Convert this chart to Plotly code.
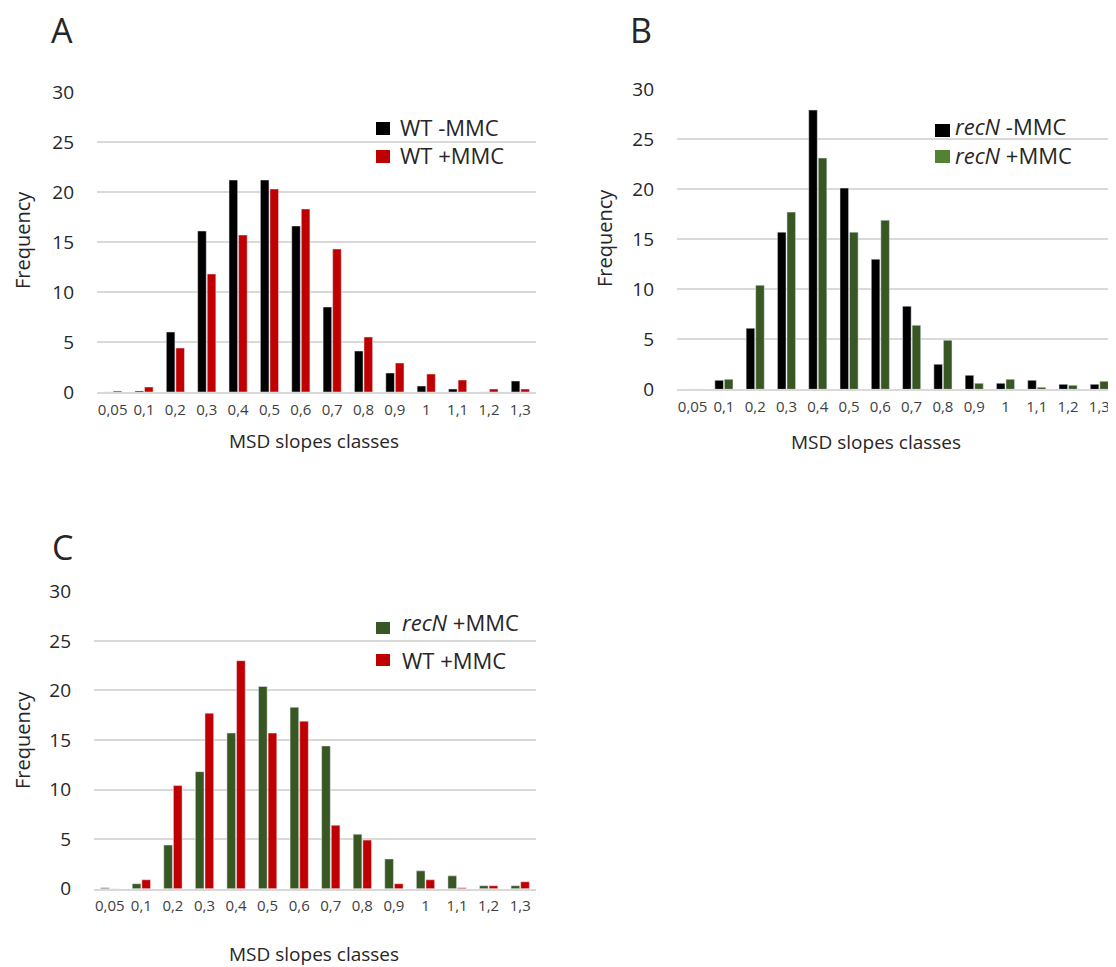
import plotly.graph_objects as go

# the page body has an 8px margin, so figure pixel = window pixel - 8
OFF = 8
W, H = 1116, 967

categories = ["0,05", "0,1", "0,2", "0,3", "0,4", "0,5", "0,6", "0,7",
              "0,8", "0,9", "1", "1,1", "1,2", "1,3"]

# Panel A
wt_minus_mmc = [0.0, 0.1, 6.0, 16.1, 21.2, 21.2, 16.6, 8.5, 4.1, 1.9, 0.6, 0.3, 0.0, 1.1]
wt_plus_mmc_a = [0.1, 0.5, 4.4, 11.8, 15.7, 20.3, 18.3, 14.3, 5.5, 2.9, 1.8, 1.2, 0.3, 0.3]

# Panel B
recn_minus_mmc = [0.0, 0.9, 6.1, 15.7, 27.9, 20.1, 13.0, 8.3, 2.5, 1.4, 0.6, 0.9, 0.5, 0.5]
recn_plus_mmc_b = [0.0, 1.0, 10.4, 17.7, 23.1, 15.7, 16.9, 6.4, 4.9, 0.6, 1.0, 0.2, 0.4, 0.8]

# Panel C
recn_plus_mmc_c = [0.1, 0.5, 4.4, 11.8, 15.7, 20.4, 18.3, 14.4, 5.5, 3.0, 1.8, 1.3, 0.3, 0.3]
wt_plus_mmc_c = [0.0, 0.9, 10.4, 17.7, 23.0, 15.7, 16.9, 6.4, 4.9, 0.5, 0.9, 0.1, 0.3, 0.7]

y_ticks = [0, 5, 10, 15, 20, 25, 30]

BLACK = "#000000"
RED = "#C00000"
GREEN = "#385723"
GREEN_LIGHT = "#548235"
FONT = "Open Sans"
TXT = "#262626"


def px(x):
    return (x - OFF) / W


def py(y):
    return 1 - (y - OFF) / H


fig = go.Figure()

fig.add_trace(go.Bar(x=categories, y=wt_minus_mmc, marker_color=BLACK, xaxis="x", yaxis="y", showlegend=False))
fig.add_trace(go.Bar(x=categories, y=wt_plus_mmc_a, marker_color=RED, xaxis="x", yaxis="y", showlegend=False))
fig.add_trace(go.Bar(x=categories, y=recn_minus_mmc, marker_color=BLACK, xaxis="x2", yaxis="y2", showlegend=False))
fig.add_trace(go.Bar(x=categories, y=recn_plus_mmc_b, marker_color=GREEN, xaxis="x2", yaxis="y2", showlegend=False))
fig.add_trace(go.Bar(x=categories, y=recn_plus_mmc_c, marker_color=GREEN, xaxis="x3", yaxis="y3", showlegend=False))
fig.add_trace(go.Bar(x=categories, y=wt_plus_mmc_c, marker_color=RED, xaxis="x3", yaxis="y3", showlegend=False))

panels = {
    "": dict(x=(97, 536), y=(92, 392)),
    "2": dict(x=(677, 1115), y=(89, 389.3)),
    "3": dict(x=(94, 536), y=(591.3, 888.7)),
}

layout = dict(
    width=W, height=H,
    margin=dict(l=0, r=0, t=0, b=0, pad=0),
    paper_bgcolor="white", plot_bgcolor="white",
    bargap=0.39, bargroupgap=0.1, barmode="group",
    font=dict(family=FONT, color=TXT),
)

for k, p in panels.items():
    layout["xaxis" + k] = dict(
        domain=[px(p["x"][0]), px(p["x"][1])],
        anchor="y" + k, type="category", categoryorder="array", categoryarray=categories,
        showgrid=False, showline=True, linecolor="#D9D9D9", linewidth=1.5,
        ticks="", tickfont=dict(size=15, color="#404040", family=FONT),
        ticklabelstandoff=3, fixedrange=True, automargin=False,
    )
    layout["yaxis" + k] = dict(
        domain=[py(p["y"][1]), py(p["y"][0])],
        anchor="x" + k, range=[0, 30], tickvals=y_ticks,
        showgrid=True, gridcolor="#D9D9D9", gridwidth=1.5,
        zeroline=False, showline=False, ticks="",
        tickfont=dict(size=19, color=TXT, family=FONT),
        ticklabelstandoff=22, fixedrange=True, automargin=False,
    )

fig.update_layout(**layout)

annotations = []
shapes = []


def text(x, y, s, size, xanchor="center", angle=0):
    annotations.append(dict(x=px(x), y=py(y), xref="paper", yref="paper", text=s,
                            showarrow=False, xanchor=xanchor, yanchor="middle",
                            textangle=angle, font=dict(size=size, family=FONT, color=TXT)))


def swatch(x0, y0, x1, y1, color):
    shapes.append(dict(type="rect", xref="paper", yref="paper",
                       x0=px(x0), x1=px(x1), y0=py(y1), y1=py(y0),
                       fillcolor=color, line=dict(width=0)))


# panel letters
text(62, 30, "A", 34)
text(641, 30, "B", 34)
text(62, 547, "C", 34)

# axis titles
text(22, 240, "Frequency", 20, angle=-90)
text(605, 238, "Frequency", 20, angle=-90)
text(22, 740, "Frequency", 20, angle=-90)
text(314, 441, "MSD slopes classes", 19)
text(876, 442, "MSD slopes classes", 19)
text(314, 954, "MSD slopes classes", 19)

# legends
swatch(376, 122, 390, 135, BLACK)
text(398, 127, "WT -MMC", 22, xanchor="left")
swatch(376, 150, 390, 163, RED)
text(398, 155, "WT +MMC", 22, xanchor="left")

swatch(935, 124, 950, 137, BLACK)
text(953, 126, "<i>recN</i> -MMC", 22, xanchor="left")
swatch(935, 150, 950, 163, GREEN_LIGHT)
text(953, 155, "<i>recN</i> +MMC", 22, xanchor="left")

swatch(376, 622, 390, 634, GREEN)
text(400, 622, "<i>recN</i> +MMC", 22, xanchor="left")
swatch(376, 654, 390, 666, RED)
text(400, 660, "WT +MMC", 22, xanchor="left")

fig.update_layout(annotations=annotations, shapes=shapes)

fig.write_html("out.html")
